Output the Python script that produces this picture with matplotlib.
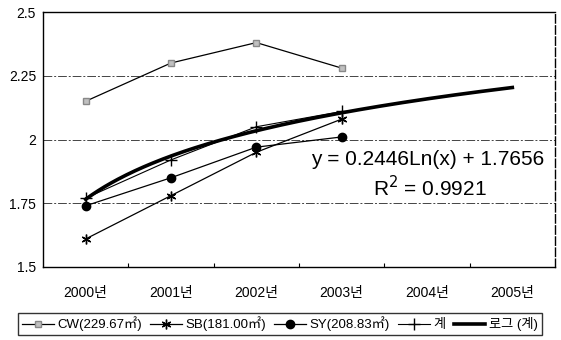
import numpy as np
import matplotlib
matplotlib.use("Agg")
import matplotlib.pyplot as plt

plt.rcParams['font.family'] = ['Liberation Sans', 'Noto Sans CJK KR', 'DejaVu Sans']

years = ["2000년", "2001년", "2002년", "2003년", "2004년", "2005년"]
cw = [2.15, 2.30, 2.38, 2.28]
sb = [1.61, 1.78, 1.95, 2.08]
sy = [1.74, 1.85, 1.97, 2.01]
total = [1.77, 1.92, 2.05, 2.11]
# log trendline of total, as printed on the chart
trend_a = 0.2446
trend_b = 1.7656
yticks = [1.5, 1.75, 2.0, 2.25, 2.5]
ytick_labels = ["1.5", "1.75", "2", "2.25", "2.5"]


def main():
    fig = plt.figure(figsize=(5.61, 3.4), dpi=100)
    ax = fig.add_axes([43 / 561, 73 / 340, 512 / 561, 255 / 340])

    x = np.arange(len(cw))
    ax.plot(x, cw, color='black', lw=0.9, marker='s', ms=5,
            mfc='#c0c0c0', mec='#888888', label="CW(229.67㎡)")
    ax.plot(x, sb, color='black', lw=0.9, marker=(6, 2, 0), ms=7,
            mew=1.0, label="SB(181.00㎡)")
    ax.plot(x, sy, color='black', lw=0.9, marker='o', ms=6, label="SY(208.83㎡)")
    ax.plot(x, total, color='black', lw=0.8, marker='+', ms=9, mew=1.0, label="계")

    xt = np.linspace(1, len(years), 200)
    ax.plot(xt - 1, trend_a * np.log(xt) + trend_b, color='black', lw=2.6,
            label="로그 (계)")

    ax.text(2.64, 1.922, "y = %.4fLn(x) + %.4f" % (trend_a, trend_b),
            fontsize=15, va='center', ha='left', clip_on=True)
    ax.text(4.04, 1.81, "R$^2$ = 0.9921", fontsize=15, va='center', ha='center')

    ax.set_xlim(-0.5, len(years) - 0.5)
    ax.set_ylim(1.5, 2.5)
    ax.set_xticks(range(len(years)))
    ax.set_xticklabels(years, fontsize=10)
    ax.set_xticks(np.arange(0.5, len(years) - 1, 1.0), minor=True)
    ax.tick_params(axis='x', which='major', length=0, pad=14)
    ax.tick_params(axis='x', which='minor', direction='in', length=3, width=0.8)
    ax.set_yticks(yticks)
    ax.set_yticklabels(ytick_labels, fontsize=10)
    ax.tick_params(axis='y', length=0, pad=5)

    for v in yticks[1:-1]:
        ax.axhline(v, color='#444444', lw=0.7, ls=(0, (9, 2, 2, 2)), zorder=0)

    for s in ax.spines.values():
        s.set_color('black')
        s.set_linewidth(1.0)
    ax.spines['right'].set_linestyle((0, (6, 2)))

    leg = fig.legend(loc='center', bbox_to_anchor=(280 / 561, 1 - 324 / 340),
                     ncol=5, fontsize=9.5, frameon=True, fancybox=False,
                     handlelength=2.4, handletextpad=0.3, columnspacing=0.6,
                     borderpad=0.3, borderaxespad=0)
    leg.get_frame().set_edgecolor('black')
    leg.get_frame().set_linewidth(1.0)

    fig.savefig("out.png", dpi=100)


if __name__ == '__main__':
    main()
